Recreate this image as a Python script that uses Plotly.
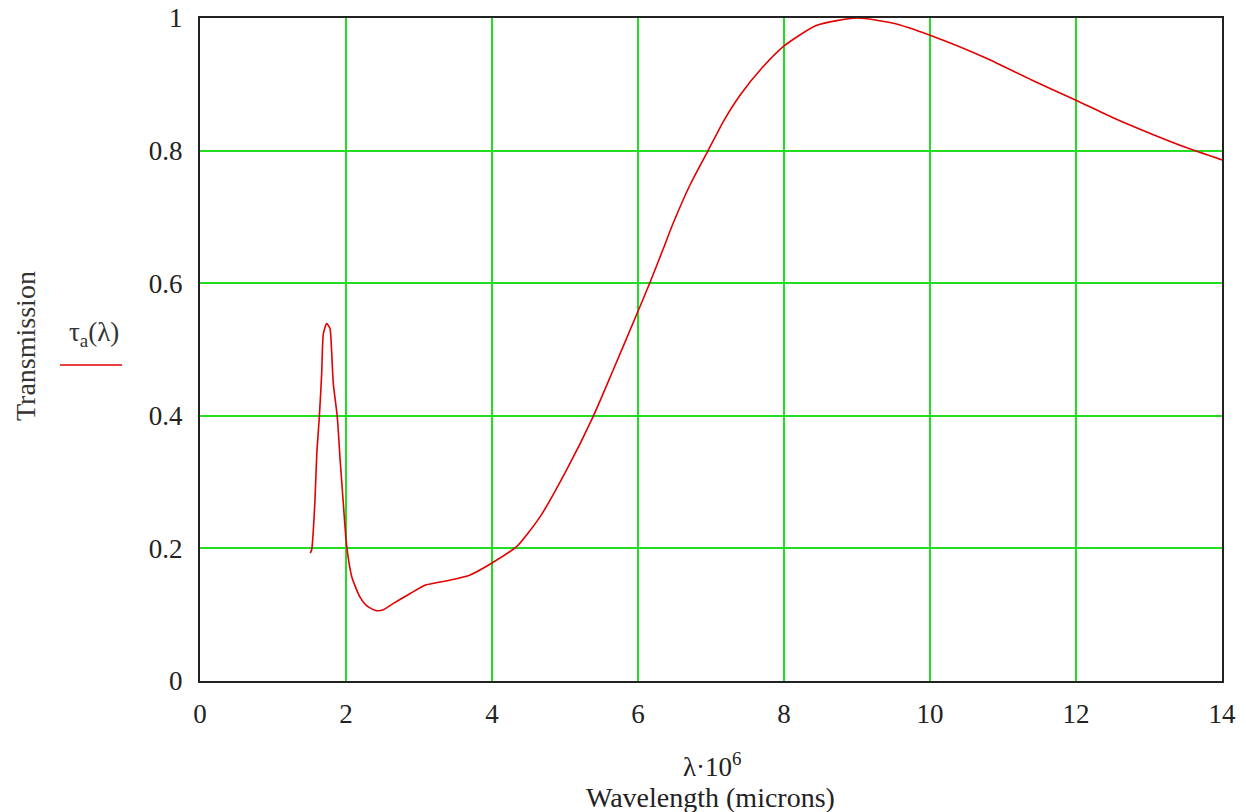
import plotly.graph_objects as go

wavelength = [1.51, 1.53, 1.55, 1.575, 1.60, 1.635, 1.667, 1.69, 1.735, 1.78, 1.80, 1.826,
              1.88, 1.92, 1.96, 2.01, 2.08, 2.19, 2.30, 2.42, 2.52, 2.65, 2.88, 3.10, 3.42,
              3.70, 4.0, 4.34, 4.66, 5.02, 5.39, 5.66, 5.99, 6.16, 6.35, 6.48, 6.72, 6.96,
              7.18, 7.40, 7.70, 7.99, 8.45, 9.0, 9.50, 10.0, 10.78, 11.4, 12.0, 12.5, 13.06,
              13.5, 14.0]
transmission = [0.193, 0.198, 0.223, 0.273, 0.343, 0.399, 0.464, 0.524, 0.539, 0.532, 0.504,
                0.449, 0.399, 0.333, 0.273, 0.203, 0.157, 0.127, 0.112, 0.106, 0.108, 0.117,
                0.132, 0.145, 0.152, 0.160, 0.178, 0.203, 0.248, 0.318, 0.40, 0.469, 0.555,
                0.60, 0.653, 0.690, 0.750, 0.80, 0.846, 0.884, 0.925, 0.957, 0.989, 1.0, 0.992,
                0.974, 0.939, 0.906, 0.876, 0.85, 0.824, 0.805, 0.786]

x_ticks = [0, 2, 4, 6, 8, 10, 12, 14]
y_ticks = [0, 0.2, 0.4, 0.6, 0.8, 1]
y_tick_labels = ["0", "0.2", "0.4", "0.6", "0.8", "1"]

FONT = "Liberation Serif, Times New Roman, serif"
GRID = "#22dd22"
RED = "#e30000"
FS = 27

# body margin is removed by the post script, so the figure starts at the window's corner
W, H = 1246, 812
PX_L, PX_R, PX_T, PX_B = 200, 1222, 18, 681   # plot area in window pixels
L, T, R, B = PX_L, PX_T, W - PX_R, H - PX_B
pw, ph = PX_R - PX_L, PX_B - PX_T


def px_x(px):
    return (px - PX_L) / pw


def px_y(py):
    return (PX_B - py) / ph


fig = go.Figure()
fig.add_trace(go.Scatter(x=wavelength, y=transmission, mode="lines",
                         line=dict(color=RED, width=1.6, shape="spline", smoothing=0.6),
                         showlegend=False, hoverinfo="skip"))

fig.update_layout(
    width=W, height=H, autosize=False,
    margin=dict(l=L, r=R, t=T, b=B, pad=0),
    paper_bgcolor="white", plot_bgcolor="white",
    font=dict(family=FONT, size=FS, color="#222"),
    xaxis=dict(range=[0, 14], tickvals=x_ticks, showgrid=True, gridcolor=GRID, gridwidth=2,
               showline=True, linecolor="#222", linewidth=2, mirror=True, zeroline=False,
               ticks="", ticklabelstandoff=8, automargin=False, ticklabeloverflow="allow",
               tickfont=dict(family=FONT, size=FS, color="#222")),
    yaxis=dict(range=[0, 1], tickvals=y_ticks, ticktext=y_tick_labels, showgrid=True,
               gridcolor=GRID, gridwidth=2, showline=True, linecolor="#222", linewidth=2,
               mirror=True, zeroline=False, ticks="", ticklabelstandoff=10, automargin=False,
               ticklabeloverflow="allow",
               tickfont=dict(family=FONT, size=FS, color="#222")),
    annotations=[
        dict(text="Transmission", xref="paper", yref="paper", x=px_x(25), y=px_y(346),
             xanchor="center", yanchor="middle", textangle=-90, showarrow=False,
             font=dict(family=FONT, size=28, color="#333")),
        dict(text="τ<sub>a</sub>(λ)", xref="paper", yref="paper", x=px_x(94),
             y=px_y(334), xanchor="center", yanchor="middle", showarrow=False,
             font=dict(family=FONT, size=FS, color="#333")),
        dict(text="λ·10<sup>6</sup>", xref="paper", yref="paper", x=px_x(712), y=px_y(765),
             xanchor="center", yanchor="middle", showarrow=False,
             font=dict(family=FONT, size=FS, color="#222")),
        dict(text="Wavelength (microns)", xref="paper", yref="paper", x=px_x(710),
             y=px_y(797), xanchor="center", yanchor="middle", showarrow=False,
             font=dict(family=FONT, size=28, color="#222")),
    ],
    shapes=[
        dict(type="line", xref="paper", yref="paper", x0=px_x(60), x1=px_x(122),
             y0=px_y(365), y1=px_y(365), line=dict(color=RED, width=1.5)),
    ],
)

fig.write_html("out.html", config={"displayModeBar": False},
               post_script="document.body.style.margin='0';document.body.style.overflow='hidden';")
